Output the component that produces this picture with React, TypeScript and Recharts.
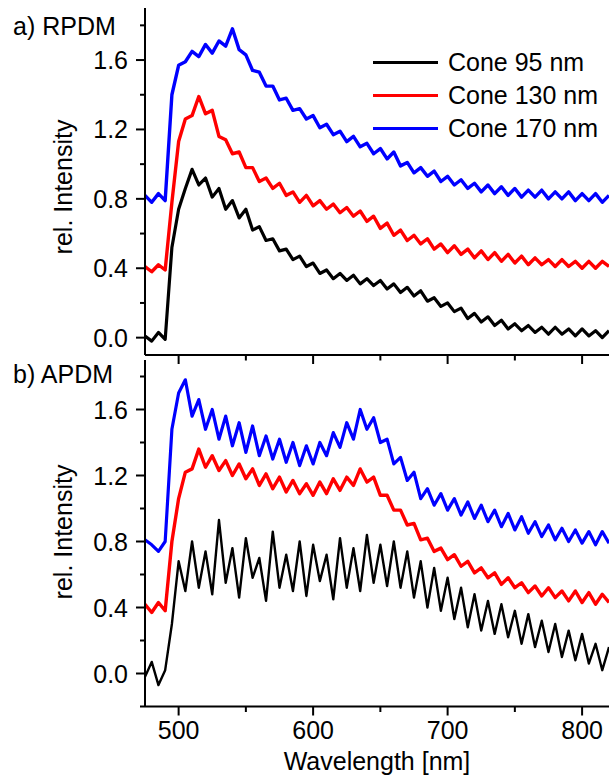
import { LineChart, Line, XAxis, YAxis, Legend } from 'recharts'

const FONT = '"Liberation Sans", Arial, sans-serif'

// wavelength grid in nm
const wavelength = [
  475, 480, 485, 490, 495, 500, 505, 510, 515, 520,
  525, 530, 535, 540, 545, 550, 555, 560, 565, 570,
  575, 580, 585, 590, 595, 600, 605, 610, 615, 620,
  625, 630, 635, 640, 645, 650, 655, 660, 665, 670,
  675, 680, 685, 690, 695, 700, 705, 710, 715, 720,
  725, 730, 735, 740, 745, 750, 755, 760, 765, 770,
  775, 780, 785, 790, 795, 800, 805, 810, 815, 820,
]

// a) RPDM
const rpdm95 = [
  0.01, -0.02, 0.03, -0.01, 0.52, 0.74, 0.86, 0.97, 0.88, 0.92,
  0.81, 0.86, 0.74, 0.79, 0.69, 0.74, 0.62, 0.64, 0.56, 0.57,
  0.50, 0.51, 0.45, 0.47, 0.41, 0.43, 0.37, 0.39, 0.34, 0.37,
  0.33, 0.36, 0.31, 0.34, 0.30, 0.33, 0.28, 0.31, 0.26, 0.29,
  0.24, 0.27, 0.21, 0.23, 0.18, 0.20, 0.15, 0.17, 0.11, 0.14,
  0.09, 0.12, 0.07, 0.10, 0.05, 0.08, 0.04, 0.07, 0.03, 0.06,
  0.02, 0.06, 0.02, 0.05, 0.01, 0.05, 0.01, 0.04, 0.00, 0.04,
]
const rpdm130 = [
  0.41, 0.38, 0.42, 0.39, 0.78, 1.13, 1.26, 1.28, 1.39, 1.29,
  1.31, 1.16, 1.14, 1.06, 1.07, 0.98, 0.98, 0.90, 0.92, 0.86,
  0.89, 0.82, 0.84, 0.78, 0.82, 0.76, 0.79, 0.74, 0.77, 0.72,
  0.75, 0.70, 0.73, 0.67, 0.70, 0.63, 0.66, 0.59, 0.62, 0.56,
  0.59, 0.54, 0.57, 0.51, 0.54, 0.49, 0.53, 0.48, 0.51, 0.46,
  0.50, 0.45, 0.49, 0.44, 0.48, 0.43, 0.47, 0.42, 0.46, 0.42,
  0.45, 0.41, 0.45, 0.41, 0.44, 0.40, 0.44, 0.40, 0.44, 0.41,
]
const rpdm170 = [
  0.82, 0.78, 0.83, 0.79, 1.40, 1.57, 1.59, 1.65, 1.62, 1.69,
  1.64, 1.71, 1.68, 1.78, 1.66, 1.63, 1.54, 1.53, 1.45, 1.45,
  1.37, 1.38, 1.31, 1.32, 1.26, 1.28, 1.21, 1.23, 1.17, 1.19,
  1.13, 1.16, 1.10, 1.12, 1.06, 1.09, 1.03, 1.07, 0.99, 1.01,
  0.95, 0.98, 0.93, 0.96, 0.90, 0.93, 0.88, 0.91, 0.86, 0.89,
  0.84, 0.88, 0.83, 0.87, 0.82, 0.86, 0.81, 0.85, 0.81, 0.85,
  0.80, 0.84, 0.80, 0.84, 0.79, 0.83, 0.79, 0.83, 0.78, 0.82,
]

// b) APDM
const apdm95 = [
  -0.02, 0.07, -0.07, 0.02, 0.30, 0.68, 0.50, 0.80, 0.52, 0.74,
  0.48, 0.93, 0.55, 0.76, 0.46, 0.82, 0.58, 0.70, 0.44, 0.86,
  0.52, 0.72, 0.50, 0.80, 0.47, 0.78, 0.56, 0.72, 0.45, 0.82,
  0.52, 0.76, 0.50, 0.84, 0.55, 0.78, 0.53, 0.80, 0.52, 0.74,
  0.46, 0.68, 0.40, 0.64, 0.38, 0.58, 0.33, 0.52, 0.28, 0.48,
  0.26, 0.44, 0.24, 0.42, 0.22, 0.38, 0.18, 0.36, 0.16, 0.32,
  0.13, 0.30, 0.10, 0.26, 0.08, 0.24, 0.06, 0.18, 0.02, 0.16,
]
const apdm130 = [
  0.42, 0.37, 0.43, 0.38, 0.80, 1.06, 1.22, 1.24, 1.36, 1.25,
  1.32, 1.23, 1.29, 1.20, 1.27, 1.18, 1.24, 1.14, 1.21, 1.12,
  1.19, 1.10, 1.17, 1.09, 1.15, 1.08, 1.16, 1.09, 1.18, 1.11,
  1.19, 1.14, 1.24, 1.16, 1.19, 1.08, 1.08, 0.99, 0.99, 0.90,
  0.91, 0.81, 0.82, 0.74, 0.76, 0.69, 0.72, 0.65, 0.68, 0.61,
  0.64, 0.58, 0.61, 0.54, 0.58, 0.52, 0.55, 0.49, 0.53, 0.47,
  0.52, 0.46, 0.50, 0.44, 0.50, 0.43, 0.49, 0.42, 0.48, 0.43,
]
const apdm170 = [
  0.81, 0.78, 0.74, 0.80, 1.48, 1.70, 1.78, 1.56, 1.66, 1.48,
  1.60, 1.42, 1.56, 1.38, 1.52, 1.34, 1.50, 1.32, 1.44, 1.30,
  1.42, 1.28, 1.40, 1.26, 1.38, 1.27, 1.40, 1.32, 1.46, 1.37,
  1.52, 1.42, 1.60, 1.48, 1.55, 1.40, 1.42, 1.27, 1.31, 1.17,
  1.22, 1.06, 1.12, 1.02, 1.09, 0.99, 1.06, 0.96, 1.04, 0.94,
  1.02, 0.92, 0.99, 0.89, 0.97, 0.87, 0.95, 0.85, 0.92, 0.83,
  0.90, 0.81, 0.88, 0.80, 0.87, 0.79, 0.86, 0.78, 0.86, 0.79,
]

const seriesKeys = ['c95', 'c130', 'c170']
const seriesNames = ['Cone 95 nm', 'Cone 130 nm', 'Cone 170 nm']
const seriesColors = ['#000000', '#ff0000', '#0000ff']

const xTicks = [500, 550, 600, 650, 700, 750, 800]
const yTicksA = [0, 0.2, 0.4, 0.6, 0.8, 1.0, 1.2, 1.4, 1.6, 1.8]
const yTicksB = [-0.2, 0, 0.2, 0.4, 0.6, 0.8, 1.0, 1.2, 1.4, 1.6, 1.8]

const rowsA = wavelength.map((w, i) => ({ w, c95: rpdm95[i], c130: rpdm130[i], c170: rpdm170[i] }))
const rowsB = wavelength.map((w, i) => ({ w, c95: apdm95[i], c130: apdm130[i], c170: apdm170[i] }))

function YTick(props: any) {
  const { x, y, payload } = props
  const v = payload.value
  const major = Math.round(v * 10) % 4 === 0
  return (
    <g>
      <line x1={x - (major ? 9 : 5)} x2={x} y1={y} y2={y} stroke="#000" strokeWidth={2} />
      {major && (
        <text x={x - 17} y={y} textAnchor="end" dominantBaseline="central" fontSize={25} fontFamily={FONT} fill="#000">
          {v.toFixed(1)}
        </text>
      )}
    </g>
  )
}

function XTick(props: any) {
  const { x, y, payload, showLabel } = props
  const major = payload.value % 100 === 0
  return (
    <g>
      <line x1={x} x2={x} y1={y} y2={y + (major ? 9 : 5.5)} stroke="#000" strokeWidth={2} />
      {showLabel && major && (
        <text x={x} y={y + 32} textAnchor="middle" fontSize={25} fontFamily={FONT} fill="#000">
          {payload.value}
        </text>
      )}
    </g>
  )
}

function LegendBox() {
  return (
    <div style={{ fontFamily: FONT, fontSize: 25, color: '#000' }}>
      {seriesNames.map((name, i) => (
        <div key={name} style={{ display: 'flex', alignItems: 'center', height: 33 }}>
          <div style={{ width: 65, height: 3, background: seriesColors[i], marginRight: 10 }} />
          <span style={{ lineHeight: '33px', whiteSpace: 'nowrap' }}>{name}</span>
        </div>
      ))}
    </div>
  )
}

function Panel({ rows, height, top, xAxisHeight, yDomain, yTicks, showXLabels, legend, lineWidths }: any) {
  return (
    <LineChart width={609} height={height} data={rows} margin={{ top, right: 0, bottom: 0, left: 0 }}>
      <XAxis
        dataKey="w"
        type="number"
        domain={[475, 820]}
        ticks={xTicks}
        interval={0}
        allowDataOverflow
        height={xAxisHeight}
        tickSize={0}
        tickMargin={0}
        tickLine={false}
        axisLine={{ stroke: '#000', strokeWidth: 2 }}
        tick={(p: any) => <XTick {...p} showLabel={showXLabels} />}
      />
      <YAxis
        type="number"
        domain={yDomain}
        ticks={yTicks}
        interval={0}
        allowDataOverflow
        width={145}
        tickSize={0}
        tickMargin={0}
        tickLine={false}
        axisLine={{ stroke: '#000', strokeWidth: 2 }}
        tick={(p: any) => <YTick {...p} />}
      />
      {legend && (
        <Legend
          layout="horizontal"
          verticalAlign="middle"
          align="center"
          wrapperStyle={{ left: 373, top: 46, width: 236 }}
          content={() => <LegendBox />}
        />
      )}
      {seriesKeys.map((k, i) => (
        <Line
          key={k}
          dataKey={k}
          name={seriesNames[i]}
          type="linear"
          stroke={seriesColors[i]}
          strokeWidth={lineWidths[i]}
          strokeLinejoin="round"
          dot={false}
          isAnimationActive={false}
        />
      ))}
    </LineChart>
  )
}

export default function App() {
  return (
    <div style={{ position: 'absolute', left: 0, top: 0, width: 609, height: 778, background: '#fff', overflow: 'hidden' }}>
      <div style={{ position: 'absolute', left: 0, top: 0 }}>
        <Panel
          rows={rowsA}
          height={370}
          top={8}
          xAxisHeight={15}
          yDomain={[-0.1, 1.9]}
          yTicks={yTicksA}
          showXLabels={false}
          legend
          lineWidths={[3.2, 3.4, 3.4]}
        />
      </div>
      <div style={{ position: 'absolute', left: 0, top: 0 }}>
        <Panel
          rows={rowsB}
          height={778}
          top={360}
          xAxisHeight={71.5}
          yDomain={[-0.2, 1.9]}
          yTicks={yTicksB}
          showXLabels
          lineWidths={[2.4, 3.4, 3.2]}
        />
      </div>
      <svg width={609} height={778} style={{ position: 'absolute', left: 0, top: 0, pointerEvents: 'none' }}>
        <g fontFamily={FONT} fontSize={25} fill="#000">
          <text x={13} y={35}>a) RPDM</text>
          <text x={13} y={383}>b) APDM</text>
          <text x={72} y={187} textAnchor="middle" transform="rotate(-90 72 187)">rel. Intensity</text>
          <text x={72} y={532} textAnchor="middle" transform="rotate(-90 72 532)">rel. Intensity</text>
          <text x={377} y={770} textAnchor="middle">Wavelength [nm]</text>
        </g>
      </svg>
    </div>
  )
}
